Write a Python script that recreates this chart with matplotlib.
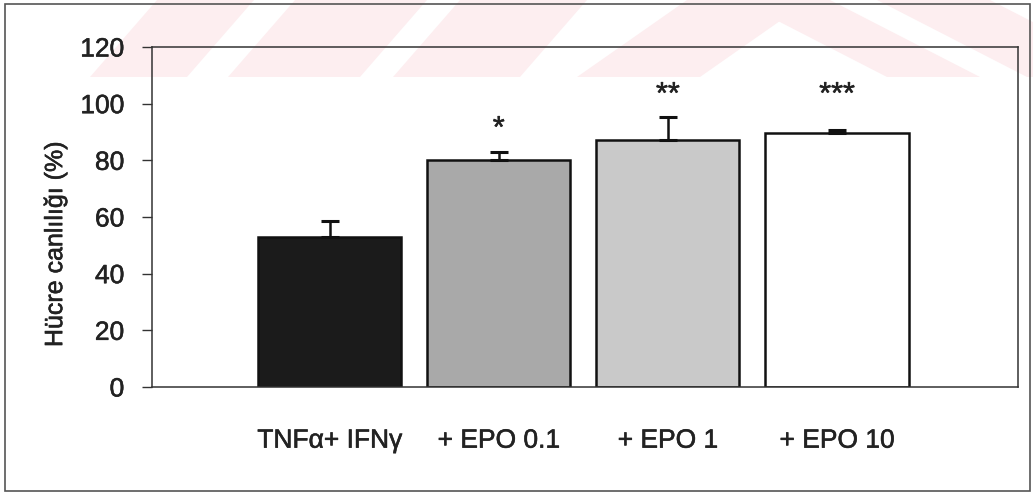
import matplotlib
matplotlib.use("Agg")
import matplotlib.pyplot as plt
import matplotlib.patheffects as pe
from matplotlib.patches import Polygon, Rectangle
import numpy as np

# Cell viability after TNF-a + IFN-g with increasing EPO doses
groups = ["TNF\u03b1+ IFN\u03b3", "+ EPO 0.1", "+ EPO 1", "+ EPO 10"]
viability = [52.9, 80.1, 87.2, 89.6]
sem = [5.7, 2.9, 8.1, 1.0]
significance = ["", "*", "**", "***"]
star_y = [0, 91.0, 103.0, 103.0]
yticks = [0, 20, 40, 60, 80, 100, 120]

bar_colors = ["#1b1b1b", "#a9a9a9", "#c9c9c9", "#ffffff"]

W, H = 1033, 495
plt.rcParams["font.family"] = ["Liberation Sans", "DejaVu Sans"]
plt.rcParams["font.size"] = 19

# slightly heavier strokes, like a printed figure
heavy = [pe.withStroke(linewidth=0.4, foreground="#222222")]

fig = plt.figure(figsize=(W / 100, H / 100), dpi=100)


def px(x, y):
    # pixel position (origin top-left) -> figure fraction
    return (x / W, 1 - y / H)


# faint diagonal watermark bands across the top strip
band_top, band_bot = 0, 77
slash = [(90, 187, 67), (228, 360, 67), (393, 520, 67), (577, 700, 110)]
backslash = [(737, 830, 150), (877, 990, 150)]
for x0, x1, dx in slash:
    pts = [px(x0, band_bot), px(x1, band_bot), px(x1 + dx, band_top), px(x0 + dx, band_top)]
    fig.add_artist(Polygon(pts, closed=True, transform=fig.transFigure,
                           facecolor="#fdeef0", edgecolor="none", zorder=0))
for x0, x1, dx in backslash:
    pts = [px(x0, band_top), px(x1, band_top), px(x1 + dx, band_bot), px(x0 + dx, band_bot)]
    fig.add_artist(Polygon(pts, closed=True, transform=fig.transFigure,
                           facecolor="#fdeef0", edgecolor="none", zorder=0))

# outer frame
x0, y0 = px(5, 491)
x1, y1 = px(1030, 4)
fig.add_artist(Rectangle((x0, y0), x1 - x0, y1 - y0, transform=fig.transFigure,
                         facecolor="none", edgecolor="#555555", linewidth=1.2, zorder=1))

ax = fig.add_axes([152 / W, 1 - 387 / H, (1018 - 152) / W, (387 - 47) / H])
ax.patch.set_alpha(0)

x = np.arange(len(groups))
ax.bar(x, viability, width=0.846, color=bar_colors, edgecolor="#111111",
       linewidth=1.8, zorder=2)
ax.errorbar(x, viability, yerr=[np.zeros(len(sem)), sem], fmt="none",
            ecolor="#111111", elinewidth=1.8, capsize=6.5, capthick=2.2, zorder=3)

for xi, label, ys in zip(x, significance, star_y):
    if label:
        ax.text(xi, ys, label, ha="center", va="center", fontsize=22,
                color="#222222", path_effects=heavy)

ax.set_xlim(-1.05, 4.07)
ax.set_ylim(0, 120)
ax.set_yticks(yticks)
ax.set_xticks(x)
ax.set_xticklabels(groups)
ax.tick_params(axis="x", length=0, pad=30)
ax.tick_params(axis="y", length=7, width=1.0, pad=13, color="#333333")
for lbl in ax.get_xticklabels() + ax.get_yticklabels():
    lbl.set_color("#222222")
    lbl.set_path_effects(heavy)
for s in ax.spines.values():
    s.set_color("#333333")
    s.set_linewidth(1.1)

ax.set_ylabel("Hücre canlılığı (%)", fontsize=18, color="#222222", path_effects=heavy)
ax.yaxis.set_label_coords(-0.098, 0.42)

fig.savefig("out.png", dpi=100)
